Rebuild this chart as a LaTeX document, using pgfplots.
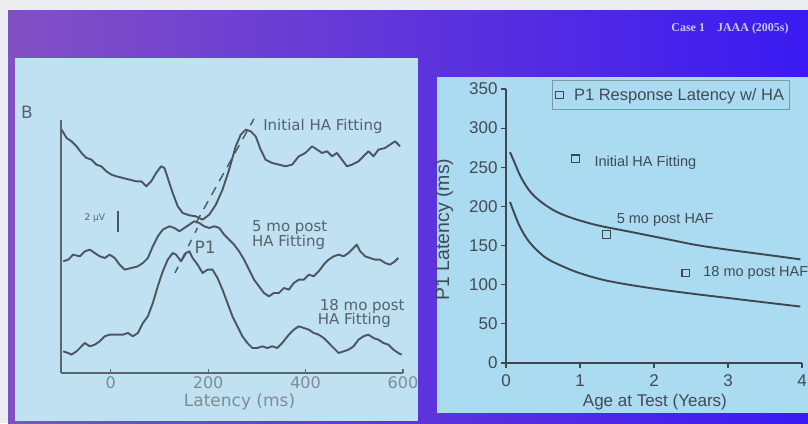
\documentclass[border=0pt]{standalone}
\usepackage{pgfplots}
\pgfplotsset{compat=1.18}
\usepackage{fontspec}
\setmainfont{Liberation Sans}
\newfontfamily\dejavu{DejaVu Sans}
\newfontfamily\serifb{Liberation Serif}
\definecolor{outerwhite}{HTML}{ECEDF1}
\definecolor{slideL}{HTML}{8350C4}
\definecolor{slideM}{HTML}{5A34E6}
\definecolor{slideR}{HTML}{3A1AF2}
\definecolor{panelL}{HTML}{BFE1F1}
\definecolor{panelR}{HTML}{AADBF0}
\definecolor{curveL}{HTML}{4D5660}
\definecolor{axisL}{HTML}{5C666F}
\definecolor{tickL}{HTML}{7F8C95}
\definecolor{textL}{HTML}{56626C}
\definecolor{curveR}{HTML}{3F4850}
\definecolor{textR}{HTML}{424B55}
\definecolor{legendC}{HTML}{7F97A6}
\definecolor{caseC}{HTML}{C4CCFF}
\tikzset{lcurve/.style={draw=curveL, line width=1.9pt, line join=round, mark=none}}
\begin{document}
\begin{tikzpicture}[x=1pt,y=1pt]
\useasboundingbox (0,0) rectangle (808,423);
\clip (0,0) rectangle (808,423);
\fill[outerwhite] (0,0) rectangle (808,423);
\shade[left color=slideL, middle color=slideM, right color=slideR] (8,0) rectangle (808,412);
\fill[panelL] (15,2) rectangle (418,365);
\fill[panelR] (437,10) rectangle (808,346);
\node[font=\dejavu\fontsize{17}{17}\selectfont, text=textL] at (27,311) {B};
\node[font=\serifb\bfseries\fontsize{12}{12}\selectfont, text=caseC] at (730,394) {Case 1\quad JAAA (2005s)};

% ---------------- left panel ----------------
\begin{axis}[
  at={(61pt,50pt)}, anchor=south west, scale only axis,
  width=342pt, height=252.7pt,
  xmin=-102, xmax=600, ymin=0, ymax=758,
  axis x line*=bottom, axis y line*=left,
  axis line style={draw=axisL, line width=1.1pt, -},
  xtick={0,200,400,600}, ytick=\empty,
  tick align=inside, major tick length=4pt,
  tick style={draw=axisL, line width=1.1pt},
  xticklabel style={font=\dejavu\fontsize{16}{16}\selectfont, text=tickL},
  /pgf/number format/assume math mode=true,
  xlabel={Latency (ms)},
  xlabel style={font=\dejavu\fontsize{17}{17}\selectfont, text=tickL, at={(axis description cs:0.522,-0.115)}, anchor=center},
  clip=false,
]
\addplot[lcurve] coordinates {(-100.8,730)(-90.6,705)(-80.4,695)(-70.1,680)(-59.9,660)(-49.7,645)(-39.5,640)(-29.3,625)(-19.1,620)(-8.9,605)(1.4,595)(11.6,590)(25.2,585)(38.8,580)(52.4,575)(62.7,575)(72.9,560)(83.1,575)(93.3,600)(103.5,620)(110.3,615)(117.1,585)(127.3,540)(137.6,500)(147.8,480)(161.4,473)(175.0,470)(188.6,460)(202.3,475)(215.9,505)(229.5,550)(243.1,610)(256.7,680)(267.0,715)(277.2,730)(287.4,725)(297.6,710)(307.8,670)(318.0,640)(331.6,630)(345.3,625)(358.9,620)(372.5,625)(386.1,650)(399.7,660)(413.4,680)(423.6,670)(433.8,660)(444.0,665)(454.2,650)(464.4,660)(474.7,640)(484.9,620)(495.1,625)(508.7,635)(518.9,650)(529.1,665)(539.4,650)(549.6,670)(563.2,675)(573.4,685)(583.6,695)(593.8,680)};
\addplot[lcurve] coordinates {(-97.4,335)(-87.2,340)(-77.0,355)(-63.3,350)(-53.1,365)(-42.9,370)(-32.7,360)(-22.5,350)(-12.3,345)(-2.0,355)(8.2,345)(18.4,325)(28.6,310)(42.2,315)(55.8,320)(66.1,330)(76.3,345)(86.5,380)(96.7,410)(106.9,430)(120.5,440)(130.8,435)(141.0,425)(151.2,435)(161.4,445)(171.6,455)(181.8,450)(192.0,440)(202.3,435)(212.5,440)(222.7,435)(232.9,415)(243.1,400)(253.3,385)(263.5,365)(273.8,340)(284.0,310)(294.2,280)(304.4,260)(314.6,240)(324.8,230)(335.1,240)(345.3,240)(355.5,255)(365.7,250)(375.9,270)(386.1,280)(396.3,280)(406.6,295)(416.8,290)(427.0,305)(437.2,325)(447.4,340)(457.6,350)(467.8,355)(478.1,350)(488.3,360)(495.1,370)(505.3,385)(512.1,365)(522.3,350)(532.5,345)(542.8,340)(553.0,340)(563.2,330)(573.4,325)(583.6,335)(590.4,345)};
\addplot[lcurve] coordinates {(-97.4,65)(-87.2,60)(-80.4,55)(-70.1,65)(-59.9,80)(-53.1,90)(-42.9,80)(-32.7,85)(-22.5,95)(-12.3,110)(-2.0,115)(11.6,115)(25.2,115)(35.4,120)(45.6,110)(55.8,120)(66.1,150)(76.3,170)(86.5,210)(96.7,260)(106.9,305)(117.1,340)(127.3,360)(134.2,355)(144.4,335)(154.6,360)(161.4,365)(168.2,345)(178.4,325)(188.6,300)(198.9,310)(209.1,310)(219.3,285)(229.5,250)(239.7,210)(249.9,170)(260.1,140)(270.4,110)(280.6,90)(290.8,75)(301.0,75)(311.2,80)(321.4,75)(331.6,80)(341.9,75)(352.1,90)(365.7,115)(375.9,130)(386.1,140)(396.3,135)(406.6,130)(416.8,120)(427.0,115)(437.2,105)(447.4,90)(457.6,75)(467.8,60)(478.1,65)(488.3,70)(498.5,80)(508.7,100)(518.9,110)(529.1,115)(539.4,105)(549.6,100)(559.8,90)(570.0,85)(580.2,70)(590.4,60)(597.2,55)};
% dashed latency markers
\addplot[lcurve, dash pattern=on 9pt off 7pt, line width=1.4pt] coordinates {(175,450)(294,762)};
\addplot[lcurve, dash pattern=on 7pt off 8pt, line width=1.4pt] coordinates {(132,300)(178,435)};
% 2 uV scale bar
\addplot[lcurve] coordinates {(15,487)(15,422)};
\node[font=\dejavu\fontsize{9}{9}\selectfont, text=textL] at (axis cs:-32.7,465) {2 µV};
\node[font=\dejavu\fontsize{17}{17}\selectfont, text=textL] at (axis cs:194,376) {P1};
\node[anchor=west, font=\dejavu\fontsize{15}{15}\selectfont, text=textL] at (axis cs:306,739) {Initial HA Fitting};
\node[anchor=west, font=\dejavu\fontsize{15}{15}\selectfont, text=textL] at (axis cs:283,435) {5 mo post};
\node[anchor=west, font=\dejavu\fontsize{15}{15}\selectfont, text=textL] at (axis cs:283,392) {HA Fitting};
\node[anchor=west, font=\dejavu\fontsize{15}{15}\selectfont, text=textL] at (axis cs:422,200) {18 mo post};
\node[anchor=west, font=\dejavu\fontsize{15}{15}\selectfont, text=textL] at (axis cs:418,158) {HA Fitting};
\end{axis}

% ---------------- right panel ----------------
\begin{axis}[
  at={(506pt,60pt)}, anchor=south west, scale only axis,
  width=296pt, height=274pt,
  xmin=0, xmax=4, ymin=0, ymax=350,
  axis x line*=bottom, axis y line*=left,
  axis line style={draw=curveR, line width=1.1pt, -},
  xtick={0,1,2,3,4}, ytick={0,50,...,350},
  tick align=outside, major tick length=5pt,
  tick style={draw=curveR, line width=1.1pt},
  ticklabel style={font=\fontsize{17}{17}\selectfont, text=textR},
  xticklabel style={yshift=-3pt},
  /pgf/number format/assume math mode=true,
  xlabel={Age at Test (Years)},
  xlabel style={font=\fontsize{17}{17}\selectfont, text=textR, at={(axis description cs:0.503,-0.143)}, anchor=center},
  ylabel={P1 Latency (ms)},
  ylabel style={font=\fontsize{19.5}{19.5}\selectfont, text=textR, at={(axis description cs:-0.209,0.487)}, anchor=center},
  legend style={at={(axis description cs:0.155,1.033)}, anchor=north west, fill=panelR, draw=legendC, line width=0.9pt, font=\fontsize{16.5}{16.5}\selectfont, text=textR, inner xsep=3pt, inner ysep=6pt, cells={anchor=west}},
  legend image code/.code={\draw[draw=curveR, line width=1.1pt] (0.1cm,-3.8pt) rectangle (0.1cm+7.6pt,3.8pt);},
  clip=false,
]
\addplot[only marks, mark=square, mark size=3.8pt, mark options={draw=curveR, line width=1.3pt}] coordinates {(0.94,261)(1.36,164)(2.43,115)};
\addlegendentry{\hspace{8pt}P1 Response Latency w/ HA}
\addplot[draw=curveR, line width=1.9pt, smooth, mark=none, forget plot] coordinates {(0.054,269.4)(0.122,254.6)(0.189,239.7)(0.280,224.9)(0.370,214.3)(0.505,203.6)(0.685,193.0)(0.911,184.6)(1.227,176.1)(1.678,167.6)(2.129,159.1)(2.580,150.6)(3.031,144.3)(3.482,138.7)(3.978,132.4)};
\addplot[draw=curveR, line width=1.9pt, smooth, mark=none, forget plot] coordinates {(0.054,205.8)(0.122,188.8)(0.189,173.9)(0.280,159.1)(0.392,146.4)(0.550,133.6)(0.776,123.0)(1.001,114.6)(1.317,106.1)(1.678,99.7)(2.129,93.3)(2.580,87.8)(3.031,82.7)(3.482,77.6)(3.978,72.1)};
\node[anchor=west, font=\fontsize{14.5}{14.5}\selectfont, text=textR] at (axis cs:1.15,256) {Initial HA Fitting};
\node[anchor=west, font=\fontsize{14.5}{14.5}\selectfont, text=textR] at (axis cs:1.45,183) {5 mo post HAF};
\node[anchor=west, font=\fontsize{14.5}{14.5}\selectfont, text=textR] at (axis cs:2.62,115) {18 mo post HAF};
\end{axis}
\end{tikzpicture}
\end{document}
